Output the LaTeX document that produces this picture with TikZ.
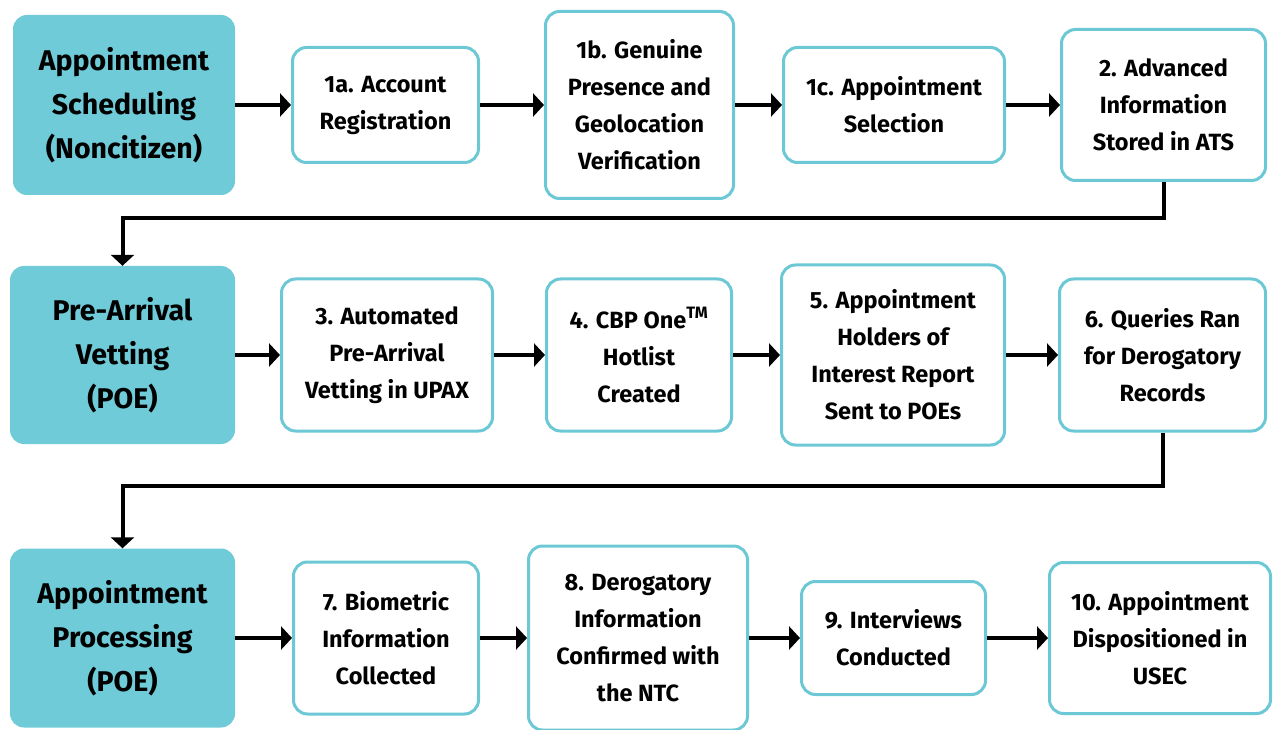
\documentclass[tikz,border=0pt]{standalone}
\usepackage{fontspec}
\setmainfont{Fira Sans}
\usepackage{tikz}
\usetikzlibrary{arrows.meta,calc}

\definecolor{phasecol}{HTML}{6ECBD7}
\definecolor{edgecol}{HTML}{6CC8D5}

\begin{document}
\begin{tikzpicture}[x=1pt,y=-1pt,
    phase/.style={fill=phasecol,rounded corners=14pt,align=center,inner sep=0pt,
        font=\fontsize{28.5}{44}\selectfont\bfseries},
    stepbox/.style={draw=edgecol,line width=3pt,fill=white,rounded corners=14pt,
        align=center,inner sep=0pt,font=\fontsize{23.5}{37}\selectfont\bfseries},
    flow/.style={line width=4pt,-{Triangle[length=11pt,width=23pt]}}]
                \useasboundingbox (0,0) rectangle (1275,730);
                % row 1
                \node[phase,minimum width=222,minimum height=180] (sched) at (124,105) {Appointment\\Scheduling\\(Noncitizen)};
                \node[stepbox,minimum width=186,minimum height=115] (s1a) at (385.5,105) {1a. Account\\Registration};
                \node[stepbox,minimum width=188,minimum height=187] (s1b) at (639.5,105) {1b. Genuine\\Presence and\\Geolocation\\Verification};
                \node[stepbox,minimum width=221,minimum height=115] (s1c) at (894,105) {1c. Appointment\\Selection};
                \node[stepbox,minimum width=204,minimum height=151] (s2) at (1163.5,105) {2. Advanced\\Information\\Stored in ATS};
                % row 2
                \node[phase,minimum width=225,minimum height=178] (vet) at (122.5,355) {Pre-Arrival\\Vetting\\(POE)};
                \node[stepbox,minimum width=211,minimum height=152] (s3) at (387,355) {3. Automated\\Pre-Arrival\\Vetting in UPAX};
                \node[stepbox,minimum width=185,minimum height=152] (s4) at (639,355) {4. CBP One\textsuperscript{TM}\\Hotlist\\Created};
                \node[stepbox,minimum width=223,minimum height=180] (s5) at (893,355) {5. Appointment\\Holders of\\Interest Report\\Sent to POEs};
                \node[stepbox,minimum width=206,minimum height=152] (s6) at (1162.5,355) {6. Queries Ran\\for Derogatory\\Records};
                % row 3
                \node[phase,minimum width=225,minimum height=179] (proc) at (122.5,638) {Appointment\\Processing\\(POE)};
                \node[stepbox,minimum width=185,minimum height=152] (s7) at (386,638) {7. Biometric\\Information\\Collected};
                \node[stepbox,minimum width=219,minimum height=184] (s8) at (638,638) {8. Derogatory\\Information\\Confirmed with\\the NTC};
                \node[stepbox,minimum width=184,minimum height=113] (s9) at (893.5,638) {9. Interviews\\Conducted};
                \node[stepbox,minimum width=221,minimum height=151] (s10) at (1160,638) {10. Appointment\\Dispositioned in\\USEC};
                % arrows
                \foreach \a/\b in {sched/s1a,s1a/s1b,s1b/s1c,s1c/s2,
                                   vet/s3,s3/s4,s4/s5,s5/s6,
                                   proc/s7,s7/s8,s8/s9,s9/s10}
                    \draw[flow] (\a) -- (\b);
                \draw[flow] (s2.south) -- ++(0,36) -| (vet.north);
                \draw[flow] (s6.south) -- ++(0,53) -| (proc.north);
            \end{tikzpicture}
\end{document}
